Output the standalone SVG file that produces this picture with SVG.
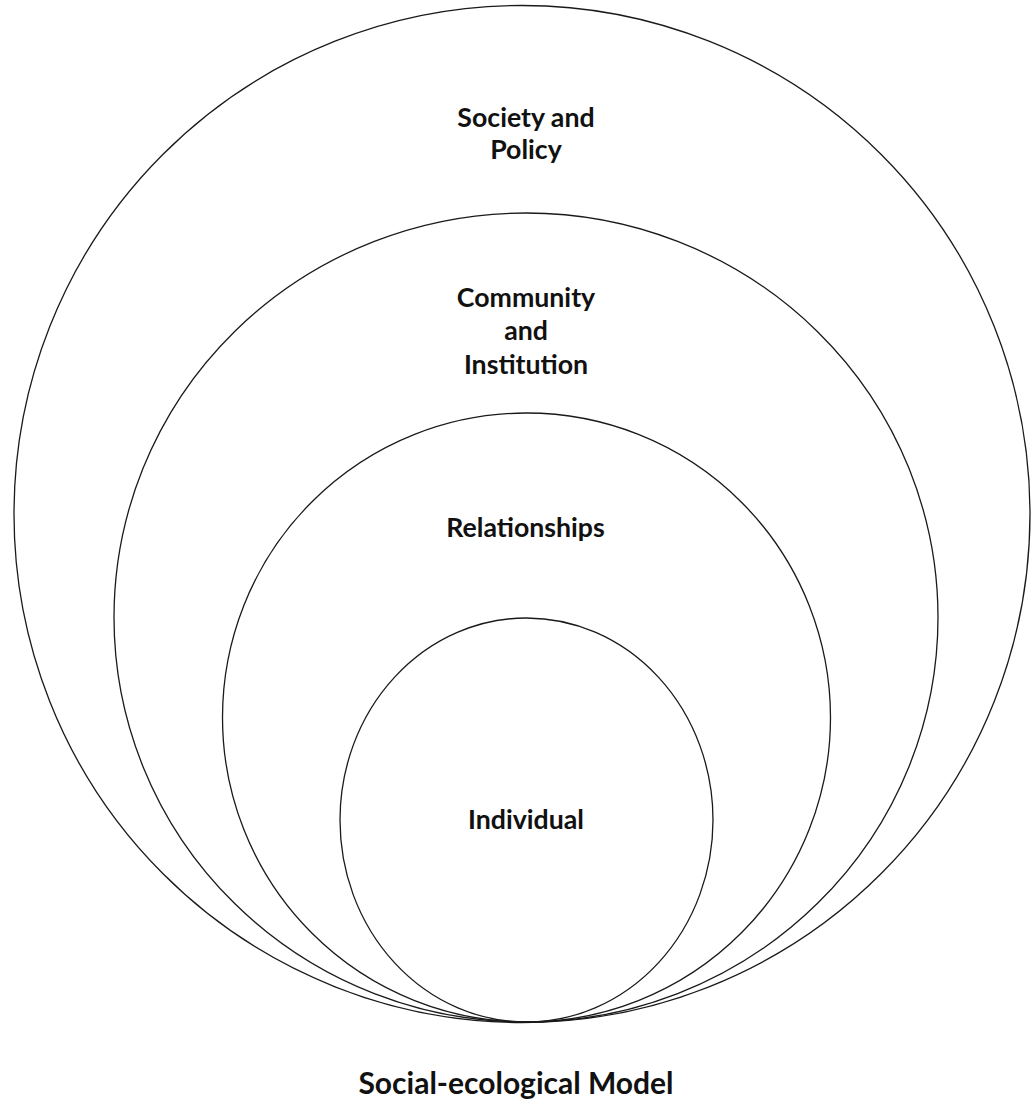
<svg xmlns="http://www.w3.org/2000/svg" width="1031" height="1101" viewBox="0 0 1031 1101">
<style>
.ring{fill:none;stroke:#1a1a1a;stroke-width:1.3}
.lbl{font-family:Lato,"Open Sans","Liberation Sans",sans-serif;font-weight:bold;font-size:26.7px;fill:#111;text-anchor:middle}
.title{font-family:Lato,"Open Sans","Liberation Sans",sans-serif;font-weight:bold;font-size:30px;fill:#111;text-anchor:middle}
</style>
<rect width="1031" height="1101" fill="#fff"/>
<g id="society">
<ellipse class="ring" cx="522" cy="514" rx="508" ry="508.5"/>
<text class="lbl" x="526" y="127">Society and</text>
<text class="lbl" x="526" y="159">Policy</text>
</g>
<g id="community">
<ellipse class="ring" cx="526" cy="617.5" rx="412" ry="404.5"/>
<text class="lbl" x="526" y="307">Community</text>
<text class="lbl" x="526" y="340">and</text>
<text class="lbl" x="526" y="374">Institution</text>
</g>
<g id="relationships">
<ellipse class="ring" cx="526.5" cy="717.5" rx="304" ry="304.5"/>
<text class="lbl" x="525.5" y="537">Relationships</text>
</g>
<g id="individual">
<ellipse class="ring" cx="526.5" cy="820" rx="186.5" ry="202"/>
<text class="lbl" x="526" y="829">Individual</text>
</g>
<g id="connectors"/>
<text class="title" x="516" y="1094">Social-ecological Model</text>
</svg>
